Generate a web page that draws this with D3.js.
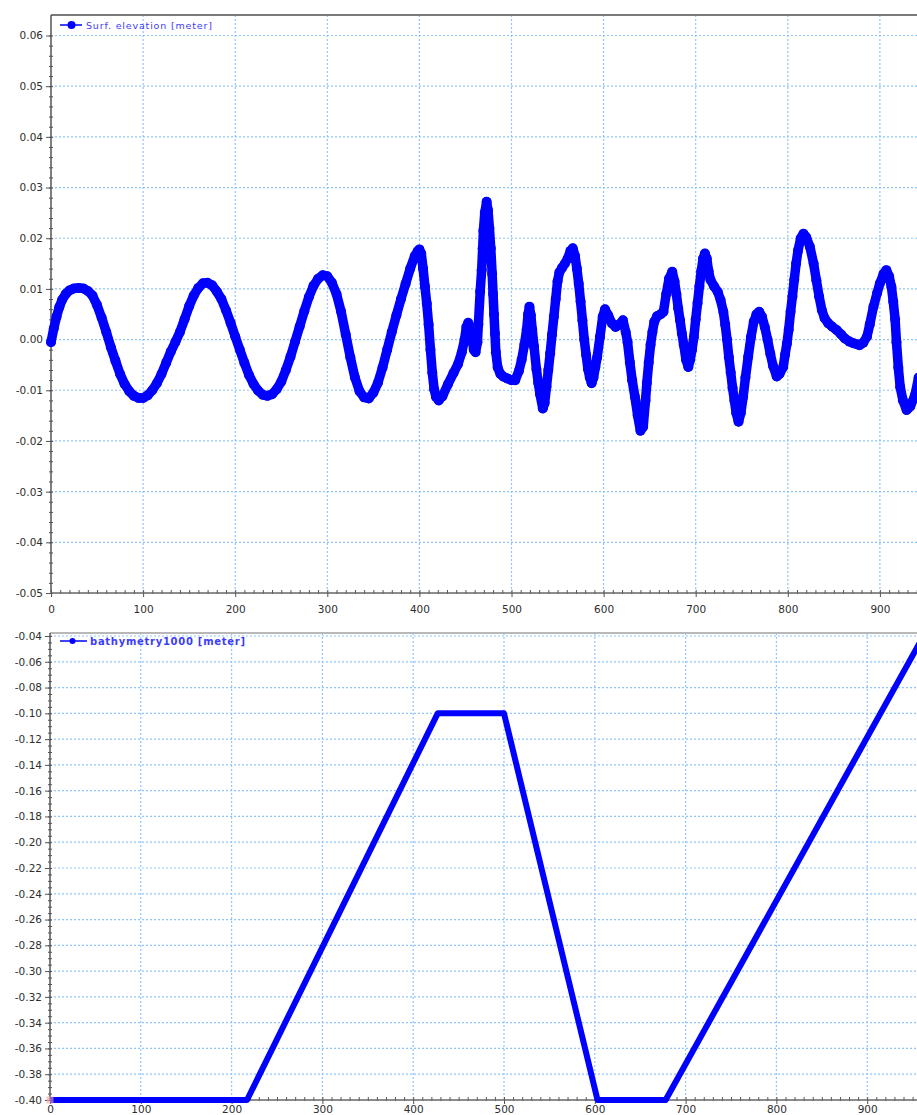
<!DOCTYPE html>
<html>
<head>
<meta charset="utf-8">
<script src="https://cdn.jsdelivr.net/npm/d3@7"></script>
<style>
  body { margin: 0; background: #fff; }
  svg { display: block; }
</style>
</head>
<body>
<div id="chart"></div>
<script>
// ---- data ----
const xTicks = [0, 100, 200, 300, 400, 500, 600, 700, 800, 900];
const surfTicksY = [-0.05, -0.04, -0.03, -0.02, -0.01, 0.00, 0.01, 0.02, 0.03, 0.04, 0.05, 0.06];
const bathTicksY = [-0.40, -0.38, -0.36, -0.34, -0.32, -0.30, -0.28, -0.26, -0.24, -0.22, -0.20,
                    -0.18, -0.16, -0.14, -0.12, -0.10, -0.08, -0.06, -0.04];
const surfLabel = "Surf. elevation [meter]";
const bathLabel = "bathymetry1000 [meter]";

// surface elevation [x, meter]
const surfElevation = [
  [0,-0.0005],[3,0.0022],[6,0.0045],[9,0.0064],[12,0.0078],[16,0.0090],[20,0.0097],[25,0.0101],
  [30,0.0102],[35,0.0101],[40,0.0096],[45,0.0087],[50,0.0068],[55,0.0043],[60,0.0015],[65,-0.0015],
  [70,-0.0042],[75,-0.0068],[80,-0.0088],[85,-0.0102],[90,-0.0111],[95,-0.0115],[100,-0.0115],
  [105,-0.0110],[110,-0.0100],[115,-0.0086],[120,-0.0068],[125,-0.0046],[130,-0.0024],[135,-0.0005],
  [140,0.0015],[145,0.0040],[150,0.0066],[155,0.0087],[160,0.0102],[165,0.0111],[170,0.0112],
  [175,0.0107],[180,0.0095],[185,0.0080],[190,0.0058],[195,0.0033],[200,0.0006],[205,-0.0020],
  [210,-0.0046],[215,-0.0070],[220,-0.0088],[225,-0.0101],[230,-0.0109],[235,-0.0111],[240,-0.0108],
  [245,-0.0098],[250,-0.0083],[255,-0.0060],[260,-0.0034],[265,-0.0004],[270,0.0026],[275,0.0056],
  [280,0.0084],[285,0.0106],[290,0.0120],[295,0.0127],[300,0.0125],[305,0.0112],[310,0.0090],
  [315,0.0055],[320,0.0010],[325,-0.0035],[330,-0.0075],[335,-0.0102],[340,-0.0114],[345,-0.0116],
  [350,-0.0105],[355,-0.0085],[360,-0.0055],[365,-0.0020],[370,0.0015],[375,0.0048],[380,0.0080],
  [385,0.0110],[390,0.0140],[395,0.0165],[398,0.0174],[400,0.0178],[402,0.0170],[404,0.0140],
  [406,0.0105],[408,0.0071],[410,0.0030],[412,-0.0020],[414,-0.0065],[416,-0.0098],[418,-0.0113],
  [421,-0.0120],[425,-0.0112],[431,-0.0088],[437,-0.0066],[442,-0.0048],[446,-0.0025],[449,0.0000],
  [451,0.0025],[453,0.0033],[455,0.0025],[457,0.0005],[459,-0.0020],[461,-0.0025],[463,-0.0005],
  [464,0.0030],[466,0.0095],[467.6,0.0137],[468.7,0.0180],[469.5,0.0215],[471,0.0250],[473,0.0272],
  [474.5,0.0255],[476,0.0220],[477.5,0.0180],[479,0.0130],[480,0.0090],[481,0.0050],[482,0.0012],
  [483,-0.0025],[485,-0.0055],[488,-0.0068],[491,-0.0073],[496,-0.0077],[500,-0.0080],[504,-0.0080],
  [508,-0.0062],[511,-0.0040],[514,-0.0010],[516.5,0.0020],[518,0.0050],[519.5,0.0065],[521,0.0048],
  [522.5,0.0020],[524.5,-0.0014],[527,-0.0058],[529,-0.0085],[531,-0.0108],[534,-0.0136],[536,-0.0125],
  [538,-0.0093],[540,-0.0060],[542,-0.0027],[544,0.0010],[546,0.0045],[548,0.0080],[550,0.0115],
  [552,0.0133],[555,0.0142],[558,0.0150],[561,0.0160],[564,0.0175],[566.5,0.0180],[569,0.0165],
  [571,0.0140],[573,0.0110],[575,0.0075],[577,0.0038],[579,0.0000],[581,-0.0030],[583,-0.0058],
  [585,-0.0075],[587,-0.0086],[589,-0.0075],[591,-0.0055],[593,-0.0035],[596,0.0005],[599,0.0045],
  [601.5,0.0060],[605,0.0048],[609,0.0032],[613,0.0025],[617,0.0030],[621,0.0038],[624,0.0015],
  [626,-0.0005],[628.5,-0.0045],[631,-0.0080],[634,-0.0113],[637,-0.0150],[640,-0.0180],[643,-0.0172],
  [645.5,-0.0120],[647,-0.0085],[649,-0.0045],[651,-0.0010],[653,0.0015],[655,0.0035],[658,0.0046],
  [662,0.0050],[665,0.0055],[668,0.0090],[671,0.0120],[674.5,0.0134],[677,0.0115],[679,0.0090],
  [681,0.0062],[683,0.0038],[685,0.0012],[687,-0.0010],[689.5,-0.0040],[692,-0.0054],[694,-0.0040],
  [696,-0.0020],[698,0.0005],[700,0.0040],[702,0.0072],[704,0.0105],[706,0.0135],[708,0.0160],
  [710,0.0170],[712,0.0160],[714,0.0135],[716,0.0118],[720,0.0105],[724,0.0094],[727,0.0078],
  [730,0.0055],[732,0.0030],[734,0.0000],[736,-0.0035],[738,-0.0065],[740,-0.0095],[742,-0.0120],
  [744,-0.0145],[746.5,-0.0162],[749,-0.0145],[751.5,-0.0113],[754,-0.0075],[757,-0.0034],
  [760,0.0005],[763,0.0035],[766,0.0050],[769,0.0055],[772,0.0045],[775,0.0025],[778,0.0000],
  [781,-0.0028],[784,-0.0052],[788,-0.0073],[791,-0.0068],[795,-0.0054],[797,-0.0030],[799,-0.0008],
  [801,0.0020],[803,0.0055],[805,0.0085],[807,0.0118],[809,0.0150],[811,0.0175],[814,0.0200],
  [817,0.0209],[820,0.0202],[824,0.0183],[828,0.0150],[831,0.0117],[834,0.0085],[837,0.0058],
  [840,0.0042],[844,0.0032],[848,0.0026],[853,0.0019],[858,0.0010],[862,0.0002],[867,-0.0004],
  [871,-0.0007],[875,-0.0009],[878,-0.0011],[882,-0.0006],[886,0.0006],[889,0.0030],[893,0.0065],
  [897,0.0092],[900,0.0111],[904,0.0130],[907,0.0137],[910,0.0125],[912.5,0.0104],[914.5,0.0075],
  [916.5,0.0040],[918,-0.0005],[920,-0.0055],[922,-0.0093],[925,-0.0120],[929,-0.0139],[933,-0.0132],
  [938,-0.0110],[942,-0.0075]
];

// bathymetry [x, meter]
const bathymetry = [
  [0,-0.40],[217,-0.40],[427,-0.10],[500,-0.10],[603,-0.40],[678,-0.40],[958,-0.045]
];

// ---- layout ----
const W = 917, H = 1115;
const fmt = d3.formatLocale({decimal: ".", thousands: ",", grouping: [3], currency: ["", ""], minus: "-"}).format(".2f");
const gridColor = "#8ec5ff";
const blue = "#0000ff";
const font = "'DejaVu Sans', Arial, sans-serif";

const svg = d3.select("#chart").append("svg")
  .attr("width", W)
  .attr("height", H)
  .style("font-family", font);

function panel(p) {
  const x = d3.scaleLinear().domain([0, 1000]).range(p.xRange);
  const y = d3.scaleLinear().domain(p.yDomain).range(p.yRange);
  const x0 = p.xRange[0], yBot = p.yRange[0];
  const g = svg.append("g");

  // grid
  g.append("g").selectAll("line")
    .data(p.yTicks.filter(t => t > p.yDomain[0] + 1e-9))
    .join("line")
      .attr("x1", x0).attr("x2", W)
      .attr("y1", d => y(d)).attr("y2", d => y(d))
      .attr("stroke", gridColor).attr("stroke-width", 1.2)
      .attr("stroke-dasharray", "2,2");
  g.append("g").selectAll("line")
    .data(xTicks.filter(t => t > 0))
    .join("line")
      .attr("x1", d => x(d)).attr("x2", d => x(d))
      .attr("y1", p.frameTop).attr("y2", yBot)
      .attr("stroke", gridColor).attr("stroke-width", 1.2)
      .attr("stroke-dasharray", "2,2");

  // frame
  g.append("line").attr("x1", x0).attr("x2", W).attr("y1", p.frameTop).attr("y2", p.frameTop)
    .attr("stroke", p.frameColor).attr("stroke-width", 2);

  // y axis
  const yMinor = d3.range(p.yDomain[0], p.yDomain[1] + 1e-9, p.yMinorStep);
  g.append("g").attr("transform", `translate(${x0},0)`)
    .call(d3.axisLeft(y).tickValues(yMinor).tickSize(2).tickFormat(""))
    .call(a => a.select(".domain").remove());
  g.append("g").attr("transform", `translate(${x0},0)`)
    .call(d3.axisRight(y).tickValues(yMinor).tickSize(2).tickFormat(""))
    .call(a => a.select(".domain").remove());
  g.append("g").attr("transform", `translate(${x0},0)`)
    .call(d3.axisLeft(y).tickValues(p.yTicks).tickFormat(fmt).tickSize(5).tickPadding(3))
    .call(a => a.select(".domain").remove())
    .selectAll("text").attr("font-size", "10.5px").attr("fill", "#2e2e2e").attr("font-family", font);

  // x axis
  const xMinor = d3.range(0, 1001, 10);
  g.append("g").attr("transform", `translate(0,${yBot})`)
    .call(d3.axisTop(x).tickValues(xMinor).tickSize(3).tickFormat(""))
    .call(a => a.select(".domain").remove());
  g.append("g").attr("transform", `translate(0,${yBot})`)
    .call(d3.axisBottom(x).tickValues(xMinor).tickSize(1).tickFormat(""))
    .call(a => a.select(".domain").remove());
  g.append("g").attr("transform", `translate(0,${yBot})`)
    .call(d3.axisBottom(x).tickValues(xTicks).tickSize(4).tickPadding(p.xPad))
    .call(a => a.select(".domain").remove())
    .selectAll("text").attr("font-size", "10.5px").attr("fill", "#2e2e2e").attr("font-family", font);

  g.selectAll(".tick line").attr("stroke", "#555");

  g.append("line").attr("x1", x0).attr("x2", x0).attr("y1", p.frameTop).attr("y2", yBot)
    .attr("stroke", "#555").attr("stroke-width", 1.5);
  g.append("line").attr("x1", x0).attr("x2", W).attr("y1", yBot).attr("y2", yBot)
    .attr("stroke", "#666").attr("stroke-width", 1.5);

  // clip
  const clipId = "clip" + p.id;
  svg.append("clipPath").attr("id", clipId).append("rect")
    .attr("x", x0 - 6).attr("y", p.frameTop).attr("width", W - x0 + 6).attr("height", yBot - p.frameTop + 6);

  return {x, y, g, clipId};
}

// ---- top panel: surface elevation ----
const topPanel = panel({
  id: "top", xRange: [51, 972], yDomain: [-0.05, 0.06], yRange: [593, 35.5],
  yTicks: surfTicksY, yMinorStep: 0.002, frameTop: 15, frameColor: "#7a7a7a", xPad: 9
});

const surfLine = d3.line().x(d => topPanel.x(d[0])).y(d => topPanel.y(d[1])).curve(d3.curveLinear);
const sg = topPanel.g.append("g").attr("clip-path", `url(#${topPanel.clipId})`);
sg.append("path").datum(surfElevation)
  .attr("d", surfLine)
  .attr("fill", "none").attr("stroke", blue).attr("stroke-width", 9.5)
  .attr("stroke-linejoin", "round").attr("stroke-linecap", "round");
sg.selectAll("circle").data(surfElevation).join("circle")
  .attr("cx", d => topPanel.x(d[0])).attr("cy", d => topPanel.y(d[1])).attr("r", 5)
  .attr("fill", blue);

// legend
topPanel.g.append("line").attr("x1", 60).attr("x2", 82).attr("y1", 25).attr("y2", 25)
  .attr("stroke", blue).attr("stroke-width", 1.5);
topPanel.g.append("circle").attr("cx", 71.5).attr("cy", 25).attr("r", 4).attr("fill", blue);
topPanel.g.append("text").attr("x", 86).attr("y", 28.5).text(surfLabel)
  .attr("font-size", "9.5px").attr("fill", "#3c3cff").attr("textLength", 126);

// ---- bottom panel: bathymetry ----
const botPanel = panel({
  id: "bot", xRange: [50, 958], yDomain: [-0.40, -0.04], yRange: [1100, 636],
  yTicks: bathTicksY, yMinorStep: 0.005, frameTop: 633, frameColor: "#b8b8b8", xPad: 2
});

const bathLine = d3.line().x(d => botPanel.x(d[0])).y(d => botPanel.y(d[1]));
botPanel.g.append("g").attr("clip-path", `url(#${botPanel.clipId})`)
  .append("path").datum(bathymetry)
  .attr("d", bathLine)
  .attr("fill", "none").attr("stroke", blue).attr("stroke-width", 6)
  .attr("stroke-linejoin", "round");

// selection marker at origin
botPanel.g.append("rect").attr("x", botPanel.x(0) - 3.5).attr("y", botPanel.y(-0.40) - 3.5)
  .attr("width", 7).attr("height", 7)
  .attr("fill", "#f3a0a0").attr("fill-opacity", 0.6);

botPanel.g.append("line").attr("x1", 60).attr("x2", 87).attr("y1", 641).attr("y2", 641)
  .attr("stroke", blue).attr("stroke-width", 1.5);
botPanel.g.append("circle").attr("cx", 72.5).attr("cy", 641).attr("r", 3).attr("fill", blue);
botPanel.g.append("text").attr("x", 90).attr("y", 644.5).text(bathLabel)
  .attr("font-size", "10px").attr("font-weight", "bold").attr("fill", "#3c3cff").attr("textLength", 155);
</script>
</body>
</html>
